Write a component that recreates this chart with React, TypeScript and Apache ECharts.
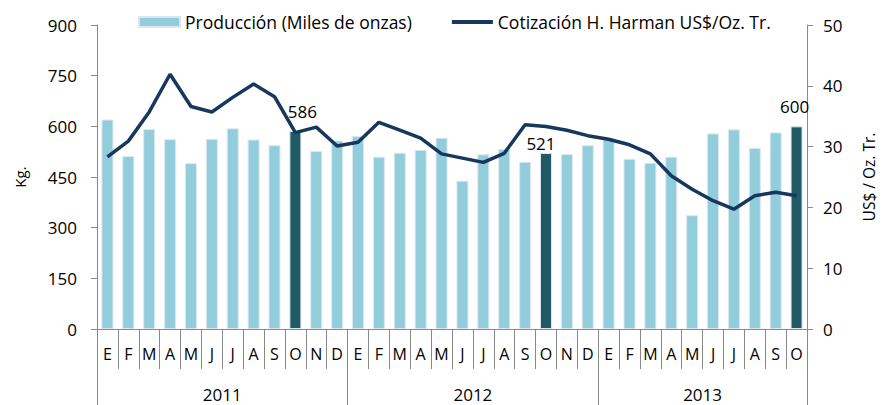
import React, { useEffect, useRef } from "react";
import * as echarts from "echarts";

const months = [
  "E", "F", "M", "A", "M", "J", "J", "A", "S", "O", "N", "D",
  "E", "F", "M", "A", "M", "J", "J", "A", "S", "O", "N", "D",
  "E", "F", "M", "A", "M", "J", "J", "A", "S", "O",
];
const years = ["2011", "2012", "2013"];
const yearSpans = [12, 12, 10];
const production = [
  620, 512, 592, 562, 491, 563, 594, 561, 544, 586, 527, 558,
  571, 510, 522, 530, 566, 439, 517, 533, 495, 521, 518, 544,
  564, 504, 492, 510, 337, 579, 591, 536, 582, 600,
];
const price = [
  28.3, 30.9, 35.7, 41.9, 36.6, 35.7, 38.1, 40.3, 38.2, 32.3, 33.2, 30.1,
  30.7, 34.0, 32.7, 31.4, 28.8, 28.1, 27.4, 28.9, 33.6, 33.3, 32.7, 31.8,
  31.2, 30.3, 28.8, 25.2, 23.0, 21.1, 19.7, 21.9, 22.5, 21.9,
];
const highlighted = [9, 21, 33];
const leftTicks = [0, 150, 300, 450, 600, 750, 900];
const rightTicks = [0, 10, 20, 30, 40, 50];

const FONT = "Open Sans";
const AXIS = "#898989";
const LINE_ICON =
  "path://M0,0h0.05v0.05h-0.05z M0,3h42v4h-42z M0,9.95h0.05v0.05h-0.05z";

export default function App() {
  const ref = useRef<HTMLDivElement>(null);
  useEffect(() => {
    if (!ref.current) return;
    const chart = echarts.init(ref.current, null, { renderer: "svg" });

    const boundaries: number[] = [];
    const yearCenters: Record<number, string> = {};
    let acc = 0;
    yearSpans.forEach((s, i) => {
      boundaries.push(acc);
      yearCenters[acc + s / 2] = years[i];
      acc += s;
    });

    const labelOffsets: Record<number, [number, number]> = {
      9: [7, -6],
      21: [-5, 4],
      33: [-2, -6],
    };

    const barData = production.map((v, i) => {
      if (highlighted.includes(i)) {
        return {
          value: v,
          itemStyle: { color: "#215967" },
          label: {
            show: true,
            position: "top",
            offset: labelOffsets[i] || [0, 0],
            formatter: "{c}",
            fontFamily: FONT,
            fontSize: 17,
            color: "#000",
          },
        };
      }
      return v;
    });

    chart.setOption({
      animation: false,
      backgroundColor: "#fff",
      textStyle: { fontFamily: FONT },
      legend: {
        top: 8,
        left: 133,
        itemGap: 40,
        itemWidth: 41,
        itemHeight: 10,
        textStyle: { fontFamily: FONT, fontSize: 17.5, color: "#000" },
        data: [
          { name: "Producción (Miles de onzas)", icon: "rect" },
          {
            name: "Cotización H. Harman US$/Oz. Tr.",
            icon: LINE_ICON,
            itemStyle: { color: "#17375E", borderWidth: 0 },
          },
        ],
      },
      grid: {
        left: 97,
        right: 80,
        top: 25,
        bottom: 76,
        containLabel: false,
        outerBoundsMode: "none",
      },
      xAxis: [
        {
          type: "category",
          data: months,
          position: "bottom",
          axisLine: { show: true, lineStyle: { color: AXIS, width: 1 } },
          axisTick: { show: true, interval: 0, length: 40, lineStyle: { color: AXIS } },
          axisLabel: { interval: 0, margin: 17, fontFamily: FONT, fontSize: 16, color: "#000" },
        },
        {
          type: "category",
          data: months.map(() => ""),
          position: "bottom",
          axisLine: { show: false },
          axisTick: {
            show: true,
            interval: (index: number) => boundaries.includes(index),
            length: 76,
            lineStyle: { color: AXIS },
          },
          axisLabel: { show: false },
        },
        {
          type: "value",
          min: 0,
          max: months.length,
          interval: 1,
          position: "bottom",
          axisLine: { show: false },
          axisTick: { show: false },
          splitLine: { show: false },
          axisLabel: {
            margin: 57,
            fontFamily: FONT,
            fontSize: 17,
            color: "#000",
            formatter: (v: number) => yearCenters[v] || "",
          },
        },
      ],
      yAxis: [
        {
          type: "value",
          min: leftTicks[0],
          max: leftTicks[leftTicks.length - 1],
          interval: leftTicks[1] - leftTicks[0],
          name: "Kg.",
          nameLocation: "middle",
          nameGap: 70,
          nameTextStyle: { fontFamily: FONT, fontSize: 15, color: "#000" },
          axisLine: { show: true, lineStyle: { color: AXIS } },
          axisTick: { show: true, length: 6, lineStyle: { color: AXIS } },
          splitLine: { show: false },
          axisLabel: { margin: 20, fontFamily: FONT, fontSize: 17, color: "#000" },
        },
        {
          type: "value",
          min: rightTicks[0],
          max: rightTicks[rightTicks.length - 1],
          interval: rightTicks[1] - rightTicks[0],
          position: "right",
          name: "US$ / Oz. Tr.",
          nameLocation: "middle",
          nameGap: 54,
          nameRotate: 90,
          nameTextStyle: { fontFamily: FONT, fontSize: 15.5, color: "#000" },
          axisLine: { show: true, lineStyle: { color: AXIS } },
          axisTick: { show: true, length: 6, lineStyle: { color: AXIS } },
          splitLine: { show: false },
          axisLabel: { margin: 16, fontFamily: FONT, fontSize: 17, color: "#000" },
        },
      ],
      series: [
        {
          name: "Producción (Miles de onzas)",
          type: "bar",
          xAxisIndex: 0,
          yAxisIndex: 0,
          barWidth: 12,
          itemStyle: { color: "#92CDDC", borderColor: "#DCE6F2", borderWidth: 1 },
          data: barData,
        },
        {
          name: "Cotización H. Harman US$/Oz. Tr.",
          type: "line",
          xAxisIndex: 0,
          yAxisIndex: 1,
          symbol: "none",
          color: "#17375E",
          lineStyle: { color: "#17375E", width: 3.5 },
          data: price,
          z: 5,
        },
      ],
    });
    return () => chart.dispose();
  }, []);

  return (
    <div
      ref={ref}
      style={{ position: "fixed", left: 0, top: 0, width: 887, height: 405, background: "#fff" }}
    />
  );
}
